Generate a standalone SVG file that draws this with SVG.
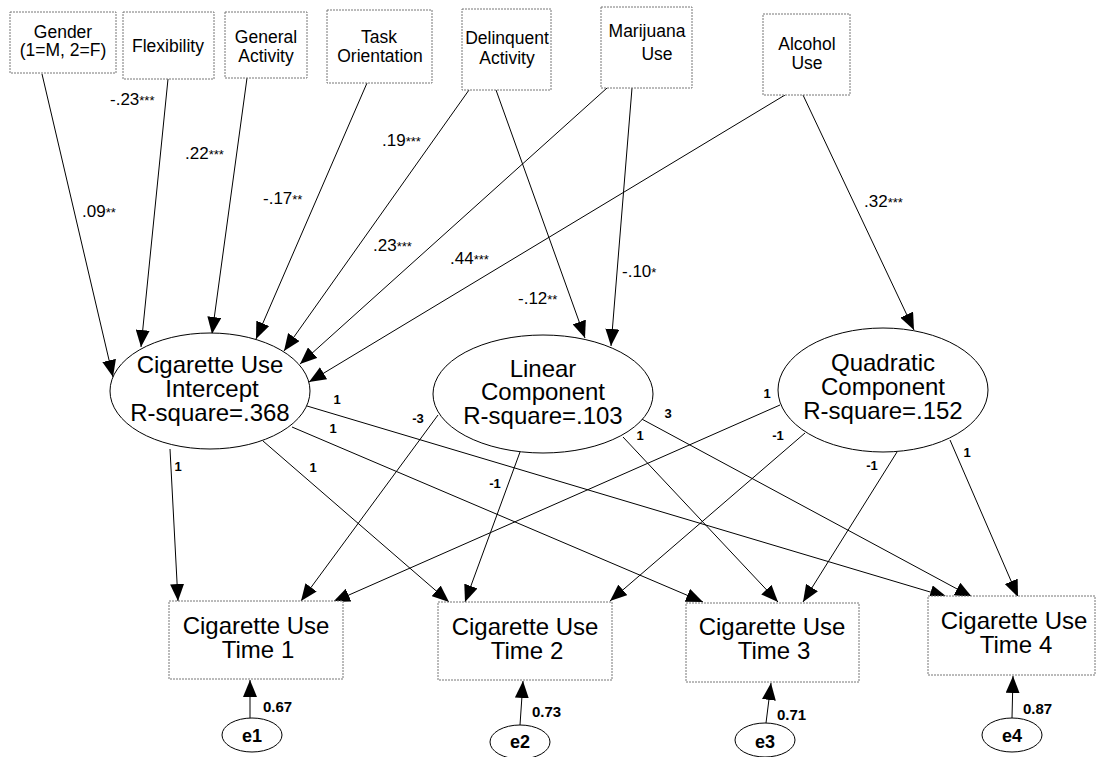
<svg xmlns="http://www.w3.org/2000/svg" width="1096" height="757" viewBox="0 0 1096 757">
<defs>
<marker id="ah" viewBox="0 0 17 14" refX="17" refY="7" markerWidth="17" markerHeight="14" markerUnits="userSpaceOnUse" orient="auto">
<path d="M0,0 L17,7 L0,14 z" fill="#000"/>
</marker>
</defs>
<style>
text{font-family:"Liberation Sans",Arial,sans-serif;fill:#000}
.box{fill:#fff;stroke:#777;stroke-width:1;stroke-dasharray:2 1}
.ell{fill:#fff;stroke:#000;stroke-width:1}
.t17{font-size:17.5px;text-anchor:middle}
.t24{font-size:24px;text-anchor:middle}
.lab{font-size:17px}
.ast{font-size:13px}
.sm{font-size:13px;text-anchor:middle;font-weight:bold}
.err{font-size:15px;font-weight:bold}
.et{font-size:18px;text-anchor:middle;font-weight:bold}
#connectors line{stroke:#000;stroke-width:1;marker-end:url(#ah)}
</style>
<rect width="1096" height="757" fill="#fff"/>
<g id="connectors">
<line x1="42" y1="74" x2="113" y2="377"/>
<line x1="168" y1="79" x2="141" y2="347"/>
<line x1="247" y1="78" x2="212" y2="334"/>
<line x1="367" y1="83" x2="256" y2="339"/>
<line x1="469" y1="90" x2="284" y2="351"/>
<line x1="607" y1="88" x2="300" y2="364"/>
<line x1="785" y1="95" x2="309" y2="382"/>
<line x1="496" y1="90" x2="585" y2="338"/>
<line x1="632" y1="88" x2="611" y2="346"/>
<line x1="803" y1="95" x2="914" y2="330"/>
<line x1="170" y1="449" x2="178" y2="601"/>
<line x1="263" y1="441" x2="449" y2="602"/>
<line x1="292" y1="427" x2="703" y2="602"/>
<line x1="307" y1="406" x2="947" y2="597"/>
<line x1="438" y1="415" x2="301" y2="601"/>
<line x1="520" y1="452" x2="465" y2="602"/>
<line x1="623" y1="437" x2="778" y2="602"/>
<line x1="638" y1="417" x2="972" y2="597"/>
<line x1="780" y1="405" x2="333" y2="602"/>
<line x1="805" y1="433" x2="610" y2="601"/>
<line x1="897" y1="452" x2="803" y2="602"/>
<line x1="950" y1="440" x2="1018" y2="597"/>
<line x1="250" y1="718" x2="250" y2="680"/>
<line x1="520" y1="725" x2="523" y2="681"/>
<line x1="766" y1="723" x2="771" y2="683"/>
<line x1="1012" y1="718" x2="1013" y2="676"/>
</g>
<g id="labels">
<text class="lab" x="110" y="105">-.23<tspan class="ast">***</tspan></text>
<text class="lab" x="82" y="217">.09<tspan class="ast">**</tspan></text>
<text class="lab" x="185" y="159">.22<tspan class="ast">***</tspan></text>
<text class="lab" x="263" y="204">-.17<tspan class="ast">**</tspan></text>
<text class="lab" x="382" y="146">.19<tspan class="ast">***</tspan></text>
<text class="lab" x="373" y="251">.23<tspan class="ast">***</tspan></text>
<text class="lab" x="450" y="264">.44<tspan class="ast">***</tspan></text>
<text class="lab" x="518" y="304">-.12<tspan class="ast">**</tspan></text>
<text class="lab" x="622" y="277">-.10<tspan class="ast">*</tspan></text>
<text class="lab" x="864" y="207">.32<tspan class="ast">***</tspan></text>
<text class="sm" x="178" y="471">1</text>
<text class="sm" x="313" y="472">1</text>
<text class="sm" x="333" y="433">1</text>
<text class="sm" x="337" y="404">1</text>
<text class="sm" x="418" y="423">-3</text>
<text class="sm" x="495" y="488">-1</text>
<text class="sm" x="640" y="440">1</text>
<text class="sm" x="668" y="418">3</text>
<text class="sm" x="767" y="398">1</text>
<text class="sm" x="778" y="440">-1</text>
<text class="sm" x="872" y="470">-1</text>
<text class="sm" x="967" y="457">1</text>
<text class="err" x="263" y="712">0.67</text>
<text class="err" x="532" y="717">0.73</text>
<text class="err" x="777" y="720">0.71</text>
<text class="err" x="1023" y="714">0.87</text>
</g>
<g id="gender"><rect class="box" x="10" y="12" width="106" height="61"/><text class="t17" x="63" y="38">Gender</text><text class="t17" x="63" y="56">(1=M, 2=F)</text></g>
<g id="flexibility"><rect class="box" x="123" y="12" width="91" height="67"/><text class="t17" x="168" y="52">Flexibility</text></g>
<g id="general"><rect class="box" x="225" y="12" width="82" height="66"/><text class="t17" x="266" y="43">General</text><text class="t17" x="266" y="62">Activity</text></g>
<g id="task"><rect class="box" x="327" y="10" width="105" height="73"/><text class="t17" x="379" y="43">Task</text><text class="t17" x="380" y="62">Orientation</text></g>
<g id="delinquent"><rect class="box" x="462" y="9" width="89" height="81"/><text class="t17" x="507" y="44">Delinquent</text><text class="t17" x="507" y="64">Activity</text></g>
<g id="marijuana"><rect class="box" x="601" y="7" width="91" height="81"/><text class="t17" x="647" y="37">Marijuana</text><text class="t17" x="657" y="60">Use</text></g>
<g id="alcohol"><rect class="box" x="763" y="14" width="87" height="81"/><text class="t17" x="807" y="50">Alcohol</text><text class="t17" x="807" y="69">Use</text></g>
<g id="intercept"><ellipse class="ell" cx="210" cy="391" rx="100" ry="58"/><text class="t24" x="210" y="373">Cigarette Use</text><text class="t24" x="212" y="397">Intercept</text><text class="t24" x="210" y="421">R-square=.368</text></g>
<g id="linear"><ellipse class="ell" cx="543" cy="394" rx="110" ry="59"/><text class="t24" x="543" y="377">Linear</text><text class="t24" x="543" y="400">Component</text><text class="t24" x="543" y="424">R-square=.103</text></g>
<g id="quadratic"><ellipse class="ell" cx="883" cy="390" rx="105" ry="62"/><text class="t24" x="883" y="371">Quadratic</text><text class="t24" x="883" y="395">Component</text><text class="t24" x="883" y="419">R-square=.152</text></g>
<g id="time1"><rect class="box" x="169" y="601" width="174" height="78"/><text class="t24" x="256" y="634">Cigarette Use</text><text class="t24" x="258" y="658">Time 1</text></g>
<g id="time2"><rect class="box" x="438" y="602" width="174" height="78"/><text class="t24" x="525" y="635">Cigarette Use</text><text class="t24" x="527" y="659">Time 2</text></g>
<g id="time3"><rect class="box" x="686" y="603" width="173" height="79"/><text class="t24" x="772" y="635">Cigarette Use</text><text class="t24" x="774" y="659">Time 3</text></g>
<g id="time4"><rect class="box" x="928" y="596" width="167" height="79"/><text class="t24" x="1014" y="629">Cigarette Use</text><text class="t24" x="1016" y="653">Time 4</text></g>
<g id="e1"><ellipse class="ell" cx="252" cy="735" rx="30" ry="17"/><text class="et" x="252" y="742">e1</text></g>
<g id="e2"><ellipse class="ell" cx="520" cy="742" rx="30" ry="17"/><text class="et" x="520" y="748">e2</text></g>
<g id="e3"><ellipse class="ell" cx="765" cy="740" rx="30" ry="17"/><text class="et" x="765" y="748">e3</text></g>
<g id="e4"><ellipse class="ell" cx="1012" cy="735" rx="30" ry="17"/><text class="et" x="1012" y="742">e4</text></g>
</svg>
